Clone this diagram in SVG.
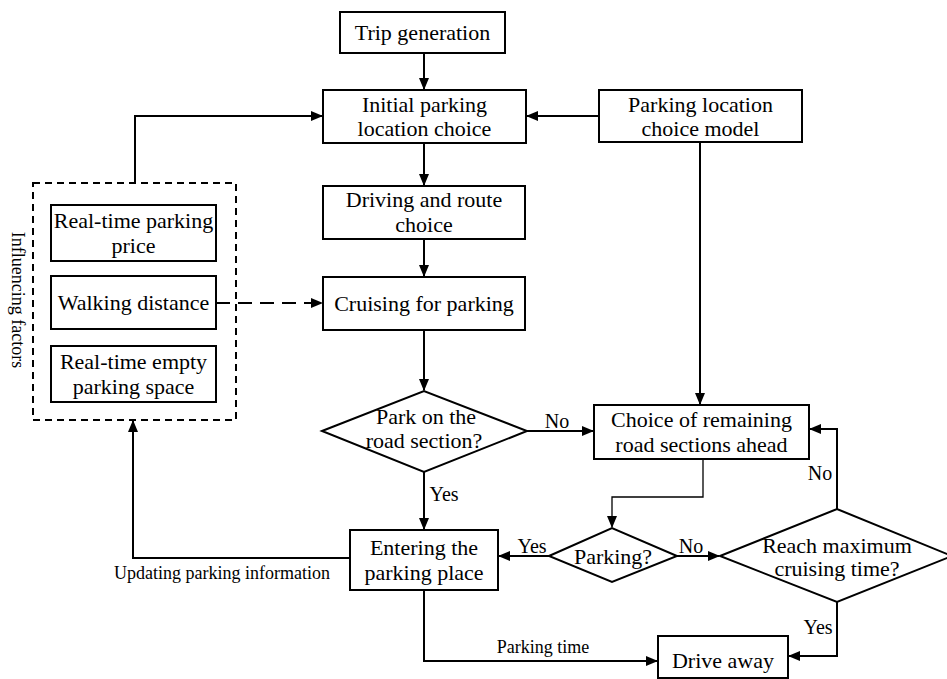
<svg xmlns="http://www.w3.org/2000/svg" width="947" height="679" viewBox="0 0 947 679">
<defs>
<marker id="ah" markerWidth="12" markerHeight="10" refX="11" refY="5" orient="auto" markerUnits="userSpaceOnUse">
<path d="M0,0 L12,5 L0,10 Z" fill="#000"/>
</marker>
<style>
.box{fill:#fff;stroke:#000;stroke-width:2}
.t{font-family:"Liberation Serif","Times New Roman",serif;font-size:22px;fill:#000;text-anchor:middle}
.s{font-family:"Liberation Serif","Times New Roman",serif;font-size:18px;fill:#000;text-anchor:middle}
.l{font-family:"Liberation Serif","Times New Roman",serif;font-size:20px;fill:#000;text-anchor:middle}
.c{fill:none;stroke:#000;stroke-width:2}
.thin{fill:none;stroke:#000;stroke-width:1.3}
</style>
</defs>
<rect width="947" height="679" fill="#fff"/>
<g id="connectors">
<line class="c" x1="424" y1="53" x2="424" y2="89" marker-end="url(#ah)"/>
<line class="c" x1="599" y1="116" x2="527" y2="116" marker-end="url(#ah)"/>
<polyline class="c" points="135,183 135,116 322,116" marker-end="url(#ah)"/>
<line class="c" x1="424" y1="143" x2="424" y2="185" marker-end="url(#ah)"/>
<line class="c" x1="424" y1="239" x2="424" y2="276" marker-end="url(#ah)"/>
<line class="c" x1="216" y1="303" x2="322" y2="303" stroke-dasharray="14,8" marker-end="url(#ah)"/>
<line class="c" x1="424" y1="330" x2="424" y2="390" marker-end="url(#ah)"/>
<line class="c" x1="700" y1="142" x2="700" y2="404" marker-end="url(#ah)"/>
<line class="c" x1="527" y1="431" x2="593" y2="431" marker-end="url(#ah)"/>
<line class="c" x1="424" y1="472" x2="424" y2="529" marker-end="url(#ah)"/>
<polyline class="thin" points="703,459 703,497 612,497 612,527" marker-end="url(#ah)"/>
<line class="c" x1="549" y1="556" x2="499" y2="556" marker-end="url(#ah)"/>
<line class="c" x1="677" y1="556" x2="719" y2="556" marker-end="url(#ah)"/>
<polyline class="c" points="837,509 837,429 810,429" marker-end="url(#ah)"/>
<polyline class="c" points="837,602 837,656 789,656" marker-end="url(#ah)"/>
<polyline class="c" points="424,590 424,661 657,661" marker-end="url(#ah)"/>
<polyline class="c" points="350,558 133,558 133,421" marker-end="url(#ah)"/>
<text class="l" x="557" y="428">No</text>
<text class="l" x="444" y="501">Yes</text>
<text class="l" x="532" y="553">Yes</text>
<text class="l" x="691" y="553">No</text>
<text class="l" x="820" y="480">No</text>
<text class="l" x="818" y="634">Yes</text>
<text class="s" x="543" y="653">Parking time</text>
<text class="s" x="222" y="579">Updating parking information</text>
</g>
<g id="trip-generation">
<rect class="box" x="340" y="12" width="165" height="41"/>
<text class="t" x="422.5" y="40">Trip generation</text>
</g>
<g id="initial-choice">
<rect class="box" x="323" y="90" width="203" height="53"/>
<text class="t" x="424.5" y="112">Initial parking</text>
<text class="t" x="424.5" y="136">location choice</text>
</g>
<g id="plcm">
<rect class="box" x="599" y="90" width="203" height="52"/>
<text class="t" x="700.5" y="112">Parking location</text>
<text class="t" x="700.5" y="136">choice model</text>
</g>
<g id="driving">
<rect class="box" x="323" y="186" width="202" height="53"/>
<text class="t" x="424" y="207">Driving and route</text>
<text class="t" x="424" y="232">choice</text>
</g>
<g id="cruising">
<rect class="box" x="323" y="277" width="202" height="53"/>
<text class="t" x="424" y="311">Cruising for parking</text>
</g>
<g id="influencing-factors">
<rect x="33" y="183" width="203" height="237" fill="none" stroke="#000" stroke-width="2" stroke-dasharray="7,5"/>
<text class="s" transform="translate(12,300) rotate(90)">Influencing factors</text>
</g>
<g id="price">
<rect class="box" x="51" y="205" width="165" height="56"/>
<text class="t" x="133.5" y="228">Real-time parking</text>
<text class="t" x="133.5" y="253">price</text>
</g>
<g id="walking">
<rect class="box" x="51" y="276" width="165" height="53"/>
<text class="t" x="133.5" y="310">Walking distance</text>
</g>
<g id="empty-space">
<rect class="box" x="51" y="346" width="165" height="56"/>
<text class="t" x="133.5" y="369">Real-time empty</text>
<text class="t" x="133.5" y="394">parking space</text>
</g>
<g id="park-on-road">
<polygon class="box" points="322,431 424,391 527,431 424,472"/>
<text class="t" x="426" y="424">Park on the</text>
<text class="t" x="424" y="448">road section?</text>
</g>
<g id="remaining-sections">
<rect class="box" x="594" y="405" width="215" height="54"/>
<text class="t" x="701.5" y="427">Choice of remaining</text>
<text class="t" x="701.5" y="452">road sections ahead</text>
</g>
<g id="entering">
<rect class="box" x="350" y="530" width="148" height="60"/>
<text class="t" x="424" y="555">Entering the</text>
<text class="t" x="424" y="580">parking place</text>
</g>
<g id="parking-decision">
<polygon class="box" points="549,556 612,528 677,556 612,582"/>
<text class="t" x="613" y="564">Parking?</text>
</g>
<g id="max-time">
<polygon class="box" points="720,556 837,509 952,556 837,602"/>
<text class="t" x="837" y="553">Reach maximum</text>
<text class="t" x="837" y="576">cruising time?</text>
</g>
<g id="drive-away">
<rect class="box" x="658" y="636" width="130" height="42"/>
<text class="t" x="723" y="668">Drive away</text>
</g>
</svg>
